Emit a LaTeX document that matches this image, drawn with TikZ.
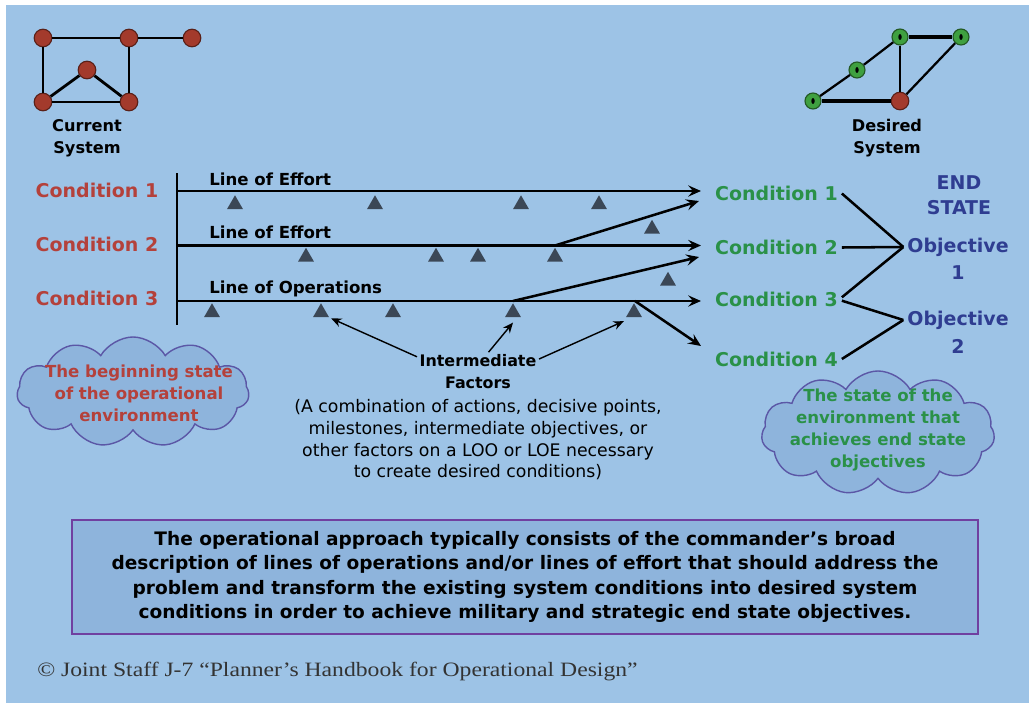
\documentclass[tikz,border=0pt]{standalone}
\usepackage{fontspec}
\setmainfont{DejaVu Sans}
\newfontfamily\notefont[FakeStretch=1.16]{Liberation Serif}
\usetikzlibrary{arrows.meta, positioning, shapes.geometric, shapes.symbols, calc}
\definecolor{cbg}{HTML}{9DC3E6}
\definecolor{ccloud}{HTML}{8EB4DC}
\definecolor{cedge}{HTML}{5B57A6}
\definecolor{cframe}{HTML}{7040A0}
\definecolor{cred}{HTML}{B4413B}
\definecolor{cnodered}{HTML}{A33A2C}
\definecolor{cgreen}{HTML}{2A9148}
\definecolor{cnodegreen}{HTML}{3FA040}
\definecolor{cnavy}{HTML}{2F3D91}
\definecolor{ctri}{HTML}{3B4756}
\definecolor{cnote}{HTML}{333333}
\tikzset{
  every picture/.style={line width=1.8pt},
  sysnode/.style={circle, draw=#1!55!black, fill=#1, minimum size=0.44cm, inner sep=0pt, line width=0.8pt},
  goodnode/.style={sysnode=cnodegreen, minimum size=0.4cm,
    path picture={\fill[black] (path picture bounding box.center) ellipse (1.2pt and 2.1pt);}},
  link/.style={line width=2pt},
  sysname/.style={font=\bfseries\fontsize{11.5}{15.5}\selectfont, align=center},
  cond/.style={font=\bfseries\fontsize{13.5}{16}\selectfont, text=#1, inner sep=2pt},
  linelabel/.style={font=\bfseries\fontsize{11.8}{14}\selectfont, anchor=base west, inner sep=0pt},
  marker/.style={regular polygon, regular polygon sides=3, fill=ctri, minimum size=0.46cm, inner sep=0pt},
  arrow/.style={-{Stealth[length=3.2mm, width=2.8mm, inset=1.2mm]}, line width=1.8pt},
  pointer/.style={-{Stealth[length=2.6mm, width=2.2mm]}, line width=1pt},
  cloudbox/.style={cloud, cloud puffs=11, cloud puff arc=120, draw=cedge, fill=ccloud, line width=1pt, inner sep=0pt},
  cloudtext/.style={font=\bfseries\fontsize{11.8}{15.6}\selectfont, align=center, text=#1},
}
\begin{document}
\begin{tikzpicture}[x=0.025cm, y=-0.025cm]
  \useasboundingbox (0,0) rectangle (1029,703);
  \fill[white] (0,0) rectangle (1029,703);
  \fill[cbg] (6,5) rectangle (1029,703);
  % current system
  \foreach \n/\x/\y in {1/43/38,2/129/38,3/192/38,4/87/70,5/43/102,6/129/102}
    \node[sysnode=cnodered] (cs\n) at (\x,\y) {};
  \foreach \a/\b in {1/2,2/3,1/5,2/6,5/6,5/4,4/6} \draw[link] (cs\a) -- (cs\b);
  \node[sysname] (csname) at (87,138) {Current\\System};
  % desired system
  \foreach \n/\x/\y in {1/813/101,2/857/70,3/900/37,4/961/37}
    \node[goodnode] (ds\n) at (\x,\y) {};
  \node[sysnode=cnodered] (ds5) at (900,101) {};
  \foreach \a/\b in {1/2,2/3,3/5,4/5} \draw[line width=1.6pt] (ds\a) -- (ds\b);
  \draw[link, line width=2.4pt] (ds3) -- (ds4);
  \draw[link, line width=2.4pt] (ds1) -- (ds5);
  \node[sysname] (dsname) at (887,138) {Desired\\System};
  % existing and desired conditions
  \foreach \i/\y in {1/190,2/244.5,3/298.5} \node[cond=cred] (lc\i) at (97,\y) {Condition \i};
  \foreach \i/\y in {1/193.5,2/247.5,3/299,4/359} \node[cond=cgreen] (rc\i) at (776.5,\y) {Condition \i};
  % lines of effort / operations
  \coordinate (top) at (177,173);
  \coordinate (bot) at (177,325);
  \draw (top) -- (bot);
  \foreach \i/\y in {1/191,2/245.5,3/301} {
    \coordinate (s\i) at (177,\y);
    \coordinate (e\i) at (701,\y);
    \draw[arrow] (s\i) -- (e\i);
  }
  \node[linelabel] (loe1) at (208,185) {Line of Effort};
  \node[linelabel] (loe2) at (208,238.5) {Line of Effort};
  \node[linelabel] (loo) at (208,293) {Line of Operations};
  \coordinate (b1s) at (555,245.5);  \coordinate (b1e) at (699,201);
  \coordinate (b2s) at (513,301);    \coordinate (b2e) at (699,257);
  \coordinate (b3s) at (635,301);    \coordinate (b3e) at (701,346);
  \foreach \i in {1,2,3} \draw[arrow] (b\i s) -- (b\i e);
  % intermediate factors
  \foreach \x [count=\i] in {235,375,521,599} \node[marker] (ta\i) at (\x,204.5) {};
  \foreach \x [count=\i] in {306,436,478,555} \node[marker] (tb\i) at (\x,257) {};
  \foreach \x [count=\i] in {212,321,393,513,634} \node[marker] (tc\i) at (\x,312.5) {};
  \node[marker] (tx1) at (652,229) {};
  \node[marker] (tx2) at (668,281) {};
  \node[font=\bfseries\fontsize{11.3}{15.6}\selectfont, align=center, inner sep=1pt] (imf) at (478,372) {Intermediate\\Factors};
  \node[font=\fontsize{12.3}{15.4}\selectfont, align=center] (imfnote) at (478,440)
    {(A combination of actions, decisive points,\\milestones, intermediate objectives, or\\other factors on a LOO or LOE necessary\\to create desired conditions)};
  \draw[pointer] (imf.166) -- (tc2.corner 3);
  \draw[pointer] (imf.62) -- ([yshift=-3pt]tc4.south);
  \draw[pointer] (imf.12) -- ([yshift=-2pt]tc5.corner 2);
  % end state
  \node[cond=cnavy, align=center, font=\bfseries\fontsize{13.5}{18}\selectfont] (endstate) at (959,195) {END\\STATE};
  \node[cond=cnavy] (obj1) at (958,247) {Objective};
  \node[cond=cnavy] (obj1n) at (958,273) {1};
  \node[cond=cnavy] (obj2) at (958,320) {Objective};
  \node[cond=cnavy] (obj2n) at (958,346) {2};
  \draw (rc1.east) -- (obj1.west);
  \draw (rc2.east) -- (obj1.west);
  \draw ([yshift=1.2pt]rc3.east) -- (obj1.west);
  \draw ([yshift=-1.2pt]rc3.east) -- (obj2.west);
  \draw (rc4.east) -- (obj2.west);
  % clouds
  \node[cloudbox, minimum width=5.8cm, minimum height=2.75cm] (begcloud) at (133,392) {};
  \node[cloudtext=cred] (begtext) at (139,393) {The beginning state\\of the operational\\environment};
  \node[cloudbox, minimum width=5.83cm, minimum height=3.1cm] (endcloud) at (878,433) {};
  \node[cloudtext=cgreen] (endtext) at (878,430) {The state of the\\environment that\\achieves end state\\objectives};
  % summary
  \node[draw=cframe, fill=ccloud, line width=1.6pt, minimum width=22.65cm, minimum height=2.85cm, align=center,
    font=\bfseries\fontsize{13.2}{17.4}\selectfont] (approach) at (525,577)
    {The operational approach typically consists of the commander’s broad\\description of lines of operations and/or lines of effort that should address the\\problem and transform the existing system conditions into desired system\\conditions in order to achieve military and strategic end state objectives.};
  \node[anchor=base west, inner sep=0pt, text=cnote, font=\notefont\fontsize{14.5}{18}\selectfont] (source) at (36,676)
    {© Joint Staff J-7 “Planner’s Handbook for Operational Design”};
\end{tikzpicture}
\end{document}
